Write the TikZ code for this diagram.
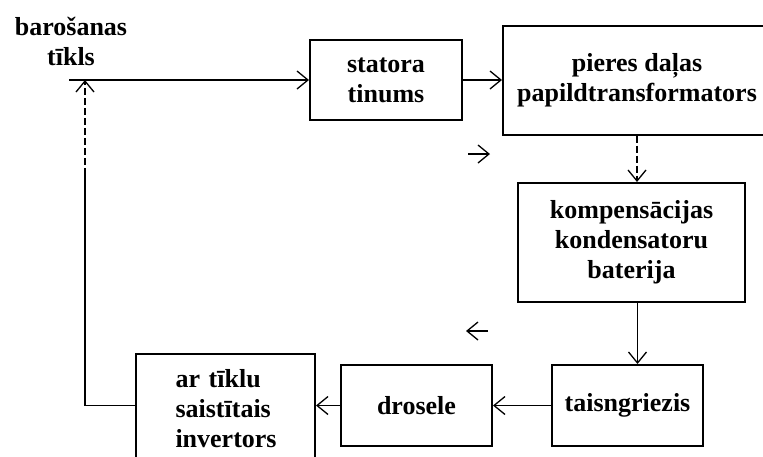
\documentclass[tikz,border=0pt]{standalone}
\usepackage{fontspec}
\setmainfont{Liberation Serif}
\usetikzlibrary{arrows.meta}

\begin{document}
\begin{tikzpicture}[x=1pt, y=-1pt, >={Straight Barb[length=11pt,width=18pt]},
    font=\bfseries\fontsize{26}{30}\selectfont,
    blok/.style={draw, line width=2pt, align=center, inner sep=0pt},
    tok/.style={->, line width=1.3pt},
    tokc/.style={->, line width=1.3pt, dash pattern=on 7pt off 3pt}]

    \useasboundingbox (0,0) rectangle (763,456);

    % Tikls
    \node[align=center, inner sep=0pt] (tikls) at (71,41) {barošanas\\tīkls};
    \coordinate (vads) at (69,80);
    \coordinate (mezgls) at (85,80);

    % Bloki (augsa)
    \node[blok, minimum width=152, minimum height=80] (stators) at (386,80) {statora\\tinums};
    \node[blok, minimum width=268, minimum height=109] (pieres) at (637,80) {pieres daļas\\papildtransformators};
    \node[blok, minimum width=227, minimum height=119] (kompens) at (631.5,242.5) {kompensācijas\\kondensatoru\\baterija};

    % Bloki (apaksa)
    \node[blok, minimum width=151, minimum height=81] (taisn) at (627.5,405.5) {taisngriezis};
    \node[blok, minimum width=151, minimum height=81] (drosele) at (416.5,405.5) {drosele};
    \node[blok, minimum width=179, minimum height=110, text width=100, align=left] (invertors) at (225.5,409) {ar tīklu\\saistītais\\invertors};

    % Bultas
    \draw[tok] (vads) -- (stators);
    \draw[tok] (stators) -- (pieres);
    \draw[tokc] (pieres.south) -- (pieres.south |- kompens.north);
    \draw[tok] ([xshift=6pt]kompens.south) -- ([xshift=6pt]kompens.south |- taisn.north);
    \draw[tok] (taisn) -- (drosele);
    \draw[tok] (drosele.west) -- (drosele.west -| invertors.east);

    % Atgriezeniska saite
    \coordinate (stura) at (85,405.5);
    \coordinate (lauzums) at (85,175);
    \draw[line width=1.3pt] (drosele.west -| invertors.west) -- (stura) -- (lauzums);
    \draw[tokc] (lauzums) -- (mezgls);

    % Atseviskas bultas
    \draw[tok] (468,154) -- (490,154);
    \draw[tok] (488,331) -- (466,331);

\end{tikzpicture}
\end{document}
